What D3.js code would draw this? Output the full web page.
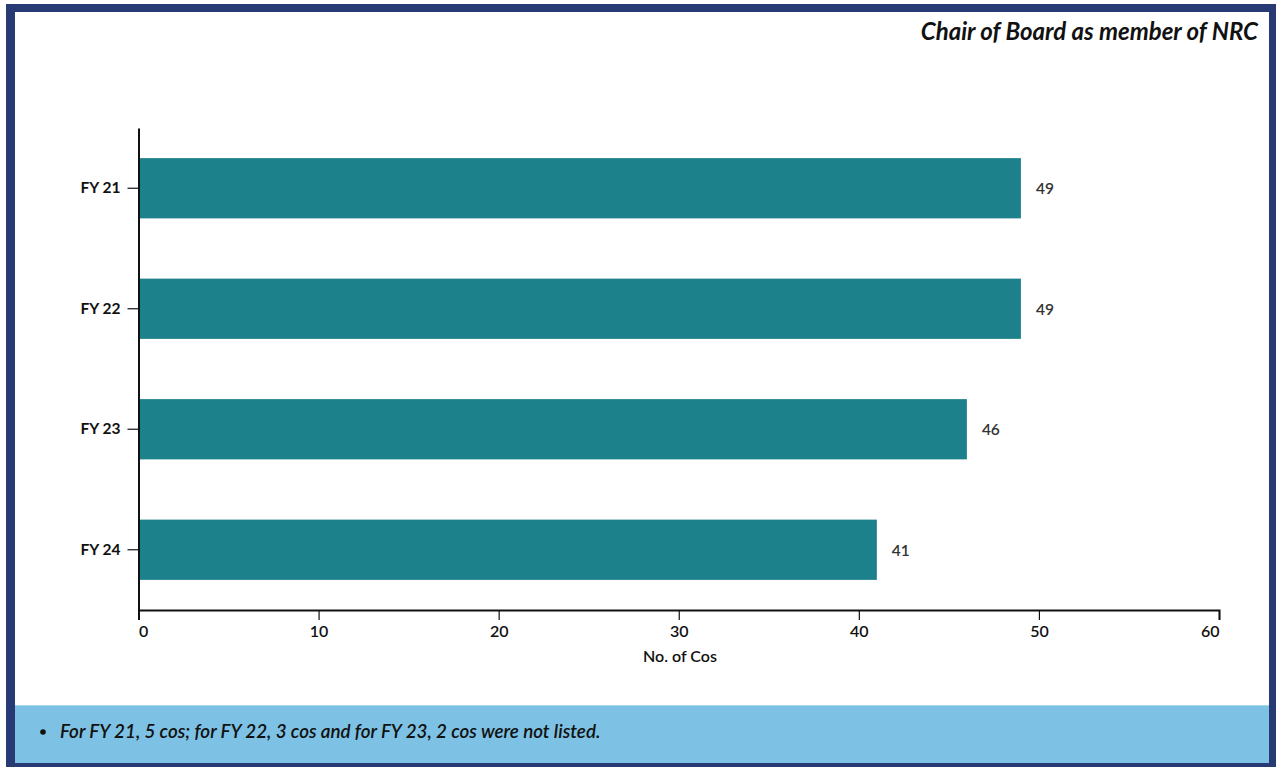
<!DOCTYPE html>
<html>
<head>
<meta charset="utf-8">
<script src="https://cdn.jsdelivr.net/npm/d3@7"></script>
<style>
  html, body { margin: 0; padding: 0; background: #ffffff; }
  svg { display: block; font-family: Lato, "Open Sans", sans-serif; }
</style>
</head>
<body>
<svg id="chart" width="1276" height="767"></svg>
<script>
// Chart data
const categories = ["FY 21", "FY 22", "FY 23", "FY 24"];
const values = [49, 49, 46, 41];
const xTicks = [0, 10, 20, 30, 40, 50, 60];
const title = "Chair of Board as member of NRC";
const xLabel = "No. of Cos";
const footnote = "For FY 21, 5 cos; for FY 22, 3 cos and for FY 23, 2 cos were not listed.";

const svg = d3.select("#chart");

// Frame
svg.append("rect").attr("x", 0).attr("y", 0).attr("width", 1276).attr("height", 767).attr("fill", "#ffffff");
svg.append("rect").attr("x", 6).attr("y", 4).attr("width", 1270).attr("height", 763).attr("fill", "#283a73");
svg.append("rect").attr("x", 15).attr("y", 12).attr("width", 1254).attr("height", 751).attr("fill", "#ffffff");
// Footnote band
svg.append("rect").attr("x", 15).attr("y", 705).attr("width", 1254).attr("height", 58).attr("fill", "#7dc2e4");
svg.append("line").attr("x1", 15).attr("x2", 1269).attr("y1", 705.5).attr("y2", 705.5).attr("stroke", "#a9d8ee").attr("stroke-width", 1);

// Title
svg.append("text")
  .attr("x", 1258).attr("y", 40)
  .attr("text-anchor", "end")
  .attr("font-size", 24).attr("font-weight", 700).attr("font-style", "italic")
  .attr("fill", "#111111")
  .text(title);

// Plot area
const plotLeft = 138.5, plotRight = 1219, plotTop = 128, plotBottom = 610;

const x = d3.scaleLinear().domain([0, 60]).range([plotLeft, plotRight]);
const y = d3.scaleBand().domain(categories).range([plotTop, plotBottom]).paddingInner(0.5).paddingOuter(0.25);

// Bars
svg.append("g").selectAll("rect")
  .data(categories)
  .join("rect")
  .attr("x", x(0))
  .attr("y", d => y(d))
  .attr("width", (d, i) => x(values[i]) - x(0))
  .attr("height", y.bandwidth())
  .attr("fill", "#1c818a");

// Value labels
svg.append("g").selectAll("text")
  .data(categories)
  .join("text")
  .attr("x", (d, i) => x(values[i]) + 15)
  .attr("y", d => y(d) + y.bandwidth() / 2)
  .attr("dy", "0.38em")
  .attr("font-size", 15.5).attr("font-weight", 600)
  .attr("fill", "#333333")
  .text((d, i) => values[i]);

// X axis
const xAxis = svg.append("g")
  .attr("transform", `translate(0,${plotBottom})`)
  .call(d3.axisBottom(x).tickValues(xTicks).tickSize(10).tickSizeOuter(10).tickPadding(6));
xAxis.select(".domain").attr("stroke", "#111").attr("stroke-width", 2);
xAxis.selectAll(".tick line").attr("stroke", "#111").attr("stroke-width", 1.2);
xAxis.selectAll(".tick text")
  .attr("font-family", "Lato, sans-serif")
  .attr("font-size", 16).attr("font-weight", 600).attr("fill", "#111")
  .attr("text-anchor", (d, i, n) => i === 0 ? "start" : (i === n.length - 1 ? "end" : "middle"));

// Y axis
const yAxis = svg.append("g")
  .attr("transform", `translate(${plotLeft},0)`)
  .call(d3.axisLeft(y).tickSize(11).tickSizeOuter(0).tickPadding(7));
yAxis.select(".domain").attr("stroke", "#111").attr("stroke-width", 2);
yAxis.selectAll(".tick line").attr("stroke", "#111").attr("stroke-width", 1.2);
yAxis.selectAll(".tick text")
  .attr("font-family", "Lato, sans-serif")
  .attr("font-size", 15.5).attr("font-weight", 700).attr("fill", "#111");

// X axis title
svg.append("text")
  .attr("x", 680)
  .attr("y", 662)
  .attr("text-anchor", "middle")
  .attr("font-size", 16).attr("font-weight", 600)
  .attr("fill", "#111")
  .text(xLabel);

// Footnote
svg.append("circle").attr("cx", 43).attr("cy", 732).attr("r", 2.8).attr("fill", "#111");
svg.append("text")
  .attr("x", 60).attr("y", 738)
  .attr("font-size", 18.8).attr("font-weight", 600).attr("font-style", "italic")
  .attr("fill", "#111")
  .text(footnote);
</script>
</body>
</html>
